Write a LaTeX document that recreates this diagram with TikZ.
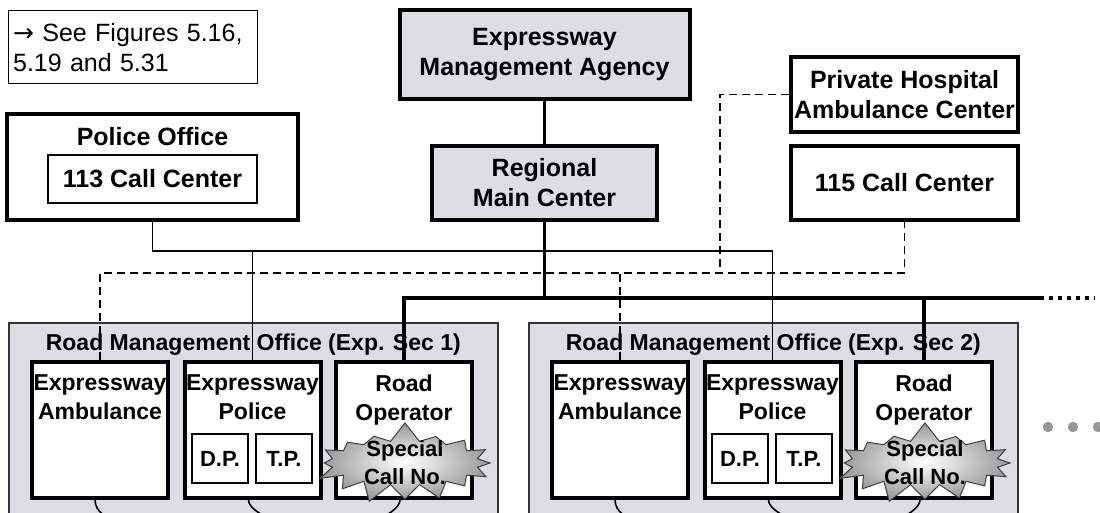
\documentclass[tikz,border=0pt]{standalone}
\usepackage{fontspec}
\setmainfont{Liberation Sans}
\newfontfamily\arrowfont{DejaVu Sans}
\usepackage{tikz}
\usetikzlibrary{positioning, shapes.symbols}
\definecolor{boxgrey}{RGB}{220,221,224}
\definecolor{burstgrey}{RGB}{150,150,152}
\definecolor{dotgrey}{RGB}{150,150,152}

\begin{document}
\begin{tikzpicture}[
    x=0.5pt, y=-0.5pt,
    orgbox/.style={rectangle, draw, line width=2pt, fill=white, align=center, inner sep=0pt, font=\bfseries\fontsize{12.5}{15}\selectfont},
    hqbox/.style={orgbox, fill=boxgrey},
    boxtitle/.style={inner sep=0pt, font=\bfseries\fontsize{12.5}{15}\selectfont},
    notebox/.style={rectangle, draw, line width=0.6pt, align=left, inner sep=0pt, text width=120pt, font=\fontsize{12.5}{15}\selectfont},
    office/.style={rectangle, draw=black!80, line width=0.8pt, fill=boxgrey, minimum width=244.5pt, minimum height=110pt, anchor=north west},
    officetitle/.style={inner sep=0pt, font=\bfseries\fontsize{11.5}{14}\selectfont},
    unit/.style={rectangle, draw, line width=2pt, fill=white, minimum width=68pt, minimum height=68pt},
    unittitle/.style={inner sep=0pt, align=center, font=\bfseries\fontsize{11.5}{14.5}\selectfont},
    subunit/.style={rectangle, draw, line width=0.8pt, fill=white, minimum width=28pt, minimum height=24.5pt, inner sep=0pt, font=\bfseries\fontsize{11}{13}\selectfont},
    burst/.style={starburst, starburst points=16, starburst point height=10pt, random starburst=7, draw=black!75, line width=0.5pt, inner color=white, outer color=burstgrey, minimum width=94pt, minimum height=42pt, inner sep=0pt},
    trunk/.style={line width=1.8pt},
    link/.style={line width=0.8pt},
    ambline/.style={line width=0.7pt, dash pattern=on 4pt off 2.5pt}
]
    \clip (0,0) rectangle (1100,513);

    % top row
    \node[notebox, minimum width=124.5pt, minimum height=36.5pt, anchor=north west] (note) at (8,10) {{\arrowfont →} See Figures 5.16,\\5.19 and 5.31};
    \node[hqbox, minimum width=145pt, minimum height=44.5pt] (agency) at (544.5,54.5) {Expressway\\Management Agency};
    \node[hqbox, minimum width=112.5pt, minimum height=37pt] (regional) at (544.5,183) {Regional\\Main Center};
    \node[orgbox, minimum width=113.5pt, minimum height=37.5pt] (hospital) at (904.5,94.5) {Private Hospital\\Ambulance Center};
    \node[orgbox, minimum width=113.5pt, minimum height=37pt] (cc115) at (904.5,183) {115 Call Center};

    \node[orgbox, minimum width=145.5pt, minimum height=53pt] (police) at (152.5,167) {};
    \node[boxtitle, anchor=base] (policetitle) at (152.5,146) {Police Office};
    \node[orgbox, line width=1pt, minimum width=104.5pt, minimum height=24pt] (cc113) at (152.5,179) {113 Call Center};

    % one road management office per expressway section
    \foreach \s/\dx in {1/0, 2/520} {
        \node[office] (office\s) at (8+\dx,322) {};
        \node[officetitle, below=5.5pt of office\s.north] {Road Management Office (Exp. Sec \s)};

        \node[unit] (amb\s) at (100+\dx,430) {};
        \node[unittitle, below=7pt of amb\s.north] {Expressway\\Ambulance};

        \node[unit] (pol\s) at (252.5+\dx,430) {};
        \node[unittitle, below=7pt of pol\s.north] {Expressway\\Police};
        \node[subunit] (dp\s) at (220+\dx,458.5) {D.P.};
        \node[subunit] (tp\s) at (284+\dx,458.5) {T.P.};

        \node[unit] (op\s) at (404+\dx,430) {};
        \node[unittitle, below=7pt of op\s.north] {Road\\Operator};
        \node[burst] (burst\s) at (405+\dx,463) {};
        \node[unittitle, font=\bfseries\fontsize{11}{14}\selectfont] at (burst\s) {Special\\Call No.};

        % internal links below the units
        \coordinate (lan\s) at (330+\dx,535);
        \draw[link] ([xshift=-2.5pt]amb\s.south) to[out=-90, in=180, looseness=0.5] (lan\s);
        \draw[link] ([xshift=-2pt]pol\s.south) to[out=-90, in=180, looseness=0.5] (lan\s);
        \draw[link] ([xshift=-2pt]op\s.south) to[out=-90, in=0, looseness=0.5] (lan\s);
    }

    % road operator trunk
    \coordinate (busend) at (1040,298);
    \coordinate (busmore) at (1095,298);
    \draw[trunk] (agency) -- (regional);
    \draw[trunk] (op1.north) |- (busend);
    \draw[trunk] (regional) -- (regional |- busend);
    \draw[trunk] (op2.north) -- (op2.north |- busend);
    \draw[trunk, dash pattern=on 2pt off 2.5pt] (busend) -- (busmore);

    % police line
    \coordinate (policebus) at (0,251);
    \draw[link] (police.south) |- (pol2.north |- policebus) -- (pol2.north);
    \draw[link] (pol1.north) -- (pol1.north |- policebus);

    % ambulance line
    \coordinate (ambbus) at (720,273);
    \draw[ambline] (hospital.west) -| (ambbus);
    \draw[ambline] (amb1.north) |- (cc115.south |- ambbus) -- (cc115.south);
    \draw[ambline] (amb2.north) -- (amb2.north |- ambbus);

    % more sections
    \foreach \x in {1048,1073,1098}
        \fill[dotgrey] (\x,427) circle[radius=2.6pt];
\end{tikzpicture}
\end{document}
